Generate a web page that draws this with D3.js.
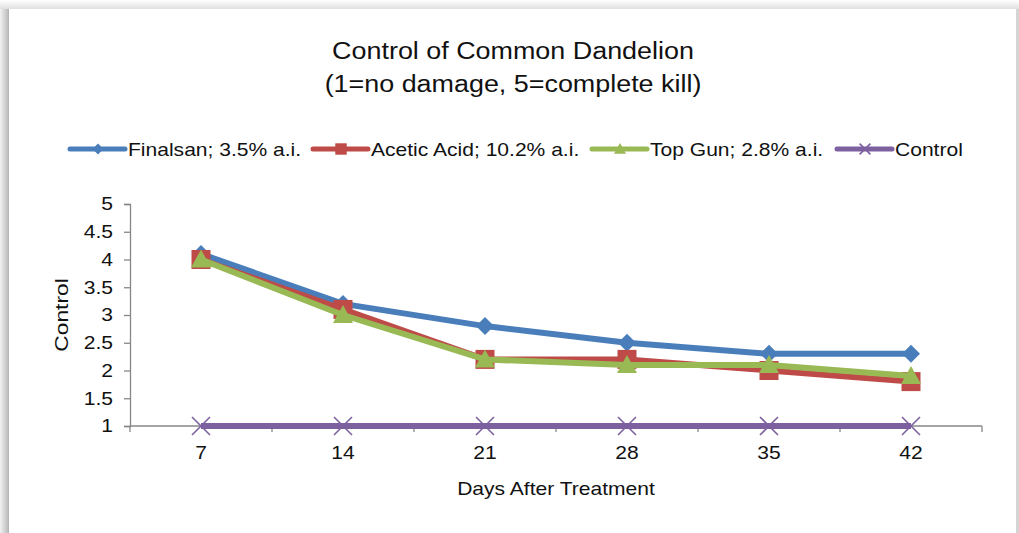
<!DOCTYPE html>
<html><head><meta charset="utf-8">
<script src="https://cdn.jsdelivr.net/npm/d3@7"></script>
<style>body{margin:0;background:#fff}svg{display:block}text{font-family:"Liberation Sans",Arial,sans-serif;fill:#111}</style>
</head><body>
<script>
const categories = ["7","14","21","28","35","42"];
const seriesNames = ["Finalsan; 3.5% a.i.","Acetic Acid; 10.2% a.i.","Top Gun; 2.8% a.i.","Control"];
const finalsan = [4.1,3.2,2.8,2.5,2.3,2.3];
const aceticAcid = [4.0,3.1,2.2,2.2,2.0,1.8];
const topGun = [4.0,3.0,2.2,2.1,2.1,1.9];
const control = [1,1,1,1,1,1];
const yTicks = [1,1.5,2,2.5,3,3.5,4,4.5,5];
const colors = ["#4a7ebb","#be4b48","#98b954","#7d60a0"];
const markers = ["diamond","square","triangle","x"];
const series = [finalsan, aceticAcid, topGun, control];

const W=1019,H=533, SX=1.17;
const svg=d3.select("body").append("svg").attr("width",W).attr("height",H);
const defs=svg.append("defs");
const gl=defs.append("linearGradient").attr("id","gl").attr("x1",0).attr("x2",1);
gl.append("stop").attr("offset",0).attr("stop-color","#f2f2f2");
gl.append("stop").attr("offset",0.7).attr("stop-color","#c4c4c4");
gl.append("stop").attr("offset",1).attr("stop-color","#a8a8a8");
const gt=defs.append("linearGradient").attr("id","gt").attr("x1",0).attr("x2",0).attr("y1",0).attr("y2",1);
gt.append("stop").attr("offset",0).attr("stop-color","#ffffff");
gt.append("stop").attr("offset",1).attr("stop-color","#dcdcdc");
svg.append("rect").attr("width",W).attr("height",H).attr("fill","#fafafa");
svg.append("rect").attr("x",0).attr("y",0).attr("width",W).attr("height",10).attr("fill","url(#gt)");
svg.append("rect").attr("x",0).attr("y",9).attr("width",10).attr("height",H).attr("fill","url(#gl)");
svg.append("rect").attr("x",1015).attr("y",9).attr("width",4).attr("height",H).attr("fill","#d4d4d4");
svg.append("rect").attr("x",9).attr("y",9).attr("width",1007).attr("height",H).attr("fill","#fff");

const x=d3.scaleBand().domain(categories).range([130,982]);
const y=d3.scaleLinear().domain([1,5]).range([426,204]);

function stext(xp,yp,size,str,anchor){
  return svg.append("text").attr("transform",`translate(${xp},${yp}) scale(${SX},1)`)
    .attr("text-anchor",anchor||"start").style("font-size",size+"px").text(str);
}
stext(513,59,23,"Control of Common Dandelion","middle");
stext(513,92,23,"(1=no damage, 5=complete kill)","middle");

const axisColor="#878787";
const ya=svg.append("g").attr("transform","translate(130,0)").call(d3.axisLeft(y).tickValues(yTicks).tickSize(6).tickPadding(11).tickFormat(d3.format("")));
const xa=svg.append("g").attr("transform","translate(0,426)").call(d3.axisBottom(x).tickSize(0).tickPadding(20));
[ya,xa].forEach(a=>{a.selectAll("path,line").attr("stroke",axisColor).attr("stroke-width",1.3);a.selectAll("text").style("font-size","18px").style("font-family","Liberation Sans,Arial,sans-serif").attr("fill","#111");});
ya.selectAll("text").attr("x",-17/SX).attr("transform",`scale(${SX},1)`);
xa.selectAll("text").attr("transform",`scale(${SX},1)`);
xa.select(".domain").attr("d","M130,0H982");
xa.selectAll(".sep").data(d3.range(categories.length+1)).enter().append("line")
  .attr("x1",i=>130+i*x.step()).attr("x2",i=>130+i*x.step()).attr("y1",0).attr("y2",6).attr("stroke",axisColor).attr("stroke-width",1.3);

stext(556,495,18,"Days After Treatment","middle");
svg.append("text").attr("transform","translate(68,315) rotate(-90) scale(1.2,1)").attr("text-anchor","middle").style("font-size","19px").text("Control");

function drawMarker(g,type,cx,cy,color,scale){
  scale=scale||1;
  if(type==="diamond"){const s=9*scale;g.append("path").attr("d",`M${cx},${cy-s}L${cx+s},${cy}L${cx},${cy+s}L${cx-s},${cy}Z`).attr("fill",color);}
  else if(type==="square"){const s=9.5*scale;g.append("rect").attr("x",cx-s).attr("y",cy-s).attr("width",2*s).attr("height",2*s).attr("fill",color);}
  else if(type==="triangle"){const s=10*scale;g.append("path").attr("d",`M${cx},${cy-s}L${cx+s},${cy+s*0.8}L${cx-s},${cy+s*0.8}Z`).attr("fill",color);}
  else {const s=9*scale;g.append("path").attr("d",`M${cx-s},${cy-s}L${cx+s},${cy+s}M${cx+s},${cy-s}L${cx-s},${cy+s}`).attr("stroke",color).attr("stroke-width",1.6).attr("fill","none");}
}

const line=d3.line().x((d,i)=>x(categories[i])+x.bandwidth()/2).y(d=>y(d));
series.forEach((vals,k)=>{
  const g=svg.append("g");
  g.append("path").datum(vals).attr("d",line).attr("fill","none").attr("stroke",colors[k]).attr("stroke-width",6).attr("stroke-linejoin","round");
  vals.forEach((v,i)=>drawMarker(g,markers[k],x(categories[i])+x.bandwidth()/2,y(v),colors[k]));
});

const legX=[70,313,592,837];
seriesNames.forEach((n,k)=>{
  const g=svg.append("g");
  g.append("line").attr("x1",legX[k]).attr("x2",legX[k]+55).attr("y1",149).attr("y2",149).attr("stroke",colors[k]).attr("stroke-width",5).attr("stroke-linecap","round");
  drawMarker(g,markers[k],legX[k]+28,149,colors[k],0.6);
  stext(legX[k]+58,156,18,n,"start");
});
</script>
</body></html>
